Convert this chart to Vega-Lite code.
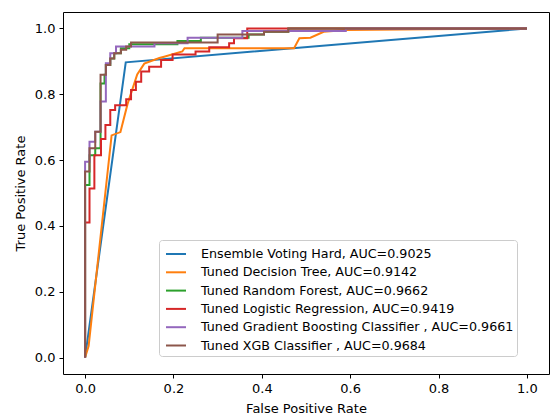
{
  "$schema": "https://vega.github.io/schema/vega-lite/v6.json",
  "width": 486,
  "height": 362,
  "autosize": {"type": "none"},
  "padding": {"left": 63, "top": 12, "right": 3, "bottom": 43},
  "config": {
    "font": "DejaVu Sans",
    "view": {"stroke": "#000", "strokeWidth": 1},
    "axis": {"domain": false, "grid": false, "tickColor": "#000", "tickSize": 4, "labelFontSize": 13, "labelColor": "#000", "titleFontSize": 13, "titleFontWeight": "normal", "titleColor": "#000", "labelPadding": 4}
  },
  "datasets": {
    "roc": [
      {"m": "Ensemble Voting Hard, AUC=0.9025", "x": 0, "y": 0},
      {"m": "Ensemble Voting Hard, AUC=0.9025", "x": 0.092, "y": 0.897},
      {"m": "Ensemble Voting Hard, AUC=0.9025", "x": 1, "y": 1},

      {"m": "Tuned Decision Tree, AUC=0.9142", "x": 0, "y": 0},
      {"m": "Tuned Decision Tree, AUC=0.9142", "x": 0.008, "y": 0.035},
      {"m": "Tuned Decision Tree, AUC=0.9142", "x": 0.06, "y": 0.675},
      {"m": "Tuned Decision Tree, AUC=0.9142", "x": 0.08, "y": 0.685},
      {"m": "Tuned Decision Tree, AUC=0.9142", "x": 0.096, "y": 0.77},
      {"m": "Tuned Decision Tree, AUC=0.9142", "x": 0.118, "y": 0.86},
      {"m": "Tuned Decision Tree, AUC=0.9142", "x": 0.134, "y": 0.893},
      {"m": "Tuned Decision Tree, AUC=0.9142", "x": 0.168, "y": 0.91},
      {"m": "Tuned Decision Tree, AUC=0.9142", "x": 0.179, "y": 0.914},
      {"m": "Tuned Decision Tree, AUC=0.9142", "x": 0.22, "y": 0.93},
      {"m": "Tuned Decision Tree, AUC=0.9142", "x": 0.225, "y": 0.94},
      {"m": "Tuned Decision Tree, AUC=0.9142", "x": 0.473, "y": 0.94},
      {"m": "Tuned Decision Tree, AUC=0.9142", "x": 0.485, "y": 0.97},
      {"m": "Tuned Decision Tree, AUC=0.9142", "x": 0.51, "y": 0.972},
      {"m": "Tuned Decision Tree, AUC=0.9142", "x": 0.54, "y": 0.99},
      {"m": "Tuned Decision Tree, AUC=0.9142", "x": 0.59, "y": 0.995},
      {"m": "Tuned Decision Tree, AUC=0.9142", "x": 1, "y": 1},

      {"m": "Tuned Random Forest, AUC=0.9662", "x": 0, "y": 0},
      {"m": "Tuned Random Forest, AUC=0.9662", "x": 0, "y": 0.524},
      {"m": "Tuned Random Forest, AUC=0.9662", "x": 0.01, "y": 0.524},
      {"m": "Tuned Random Forest, AUC=0.9662", "x": 0.01, "y": 0.615},
      {"m": "Tuned Random Forest, AUC=0.9662", "x": 0.023, "y": 0.615},
      {"m": "Tuned Random Forest, AUC=0.9662", "x": 0.023, "y": 0.636},
      {"m": "Tuned Random Forest, AUC=0.9662", "x": 0.035, "y": 0.636},
      {"m": "Tuned Random Forest, AUC=0.9662", "x": 0.035, "y": 0.833},
      {"m": "Tuned Random Forest, AUC=0.9662", "x": 0.044, "y": 0.833},
      {"m": "Tuned Random Forest, AUC=0.9662", "x": 0.044, "y": 0.859},
      {"m": "Tuned Random Forest, AUC=0.9662", "x": 0.047, "y": 0.859},
      {"m": "Tuned Random Forest, AUC=0.9662", "x": 0.047, "y": 0.889},
      {"m": "Tuned Random Forest, AUC=0.9662", "x": 0.057, "y": 0.889},
      {"m": "Tuned Random Forest, AUC=0.9662", "x": 0.057, "y": 0.909},
      {"m": "Tuned Random Forest, AUC=0.9662", "x": 0.066, "y": 0.909},
      {"m": "Tuned Random Forest, AUC=0.9662", "x": 0.066, "y": 0.925},
      {"m": "Tuned Random Forest, AUC=0.9662", "x": 0.081, "y": 0.925},
      {"m": "Tuned Random Forest, AUC=0.9662", "x": 0.081, "y": 0.94},
      {"m": "Tuned Random Forest, AUC=0.9662", "x": 0.1, "y": 0.94},
      {"m": "Tuned Random Forest, AUC=0.9662", "x": 0.1, "y": 0.952},
      {"m": "Tuned Random Forest, AUC=0.9662", "x": 0.209, "y": 0.952},
      {"m": "Tuned Random Forest, AUC=0.9662", "x": 0.209, "y": 0.962},
      {"m": "Tuned Random Forest, AUC=0.9662", "x": 0.262, "y": 0.962},
      {"m": "Tuned Random Forest, AUC=0.9662", "x": 0.262, "y": 0.972},
      {"m": "Tuned Random Forest, AUC=0.9662", "x": 0.37, "y": 0.972},
      {"m": "Tuned Random Forest, AUC=0.9662", "x": 0.37, "y": 0.982},
      {"m": "Tuned Random Forest, AUC=0.9662", "x": 0.405, "y": 0.982},
      {"m": "Tuned Random Forest, AUC=0.9662", "x": 0.405, "y": 0.99},
      {"m": "Tuned Random Forest, AUC=0.9662", "x": 0.46, "y": 0.99},
      {"m": "Tuned Random Forest, AUC=0.9662", "x": 0.46, "y": 1},
      {"m": "Tuned Random Forest, AUC=0.9662", "x": 1, "y": 1},

      {"m": "Tuned Logistic Regression, AUC=0.9419", "x": 0, "y": 0},
      {"m": "Tuned Logistic Regression, AUC=0.9419", "x": 0, "y": 0.41},
      {"m": "Tuned Logistic Regression, AUC=0.9419", "x": 0.01, "y": 0.41},
      {"m": "Tuned Logistic Regression, AUC=0.9419", "x": 0.01, "y": 0.514},
      {"m": "Tuned Logistic Regression, AUC=0.9419", "x": 0.021, "y": 0.514},
      {"m": "Tuned Logistic Regression, AUC=0.9419", "x": 0.021, "y": 0.615},
      {"m": "Tuned Logistic Regression, AUC=0.9419", "x": 0.036, "y": 0.615},
      {"m": "Tuned Logistic Regression, AUC=0.9419", "x": 0.036, "y": 0.664},
      {"m": "Tuned Logistic Regression, AUC=0.9419", "x": 0.046, "y": 0.664},
      {"m": "Tuned Logistic Regression, AUC=0.9419", "x": 0.046, "y": 0.707},
      {"m": "Tuned Logistic Regression, AUC=0.9419", "x": 0.057, "y": 0.707},
      {"m": "Tuned Logistic Regression, AUC=0.9419", "x": 0.057, "y": 0.752},
      {"m": "Tuned Logistic Regression, AUC=0.9419", "x": 0.068, "y": 0.752},
      {"m": "Tuned Logistic Regression, AUC=0.9419", "x": 0.068, "y": 0.767},
      {"m": "Tuned Logistic Regression, AUC=0.9419", "x": 0.093, "y": 0.767},
      {"m": "Tuned Logistic Regression, AUC=0.9419", "x": 0.093, "y": 0.785},
      {"m": "Tuned Logistic Regression, AUC=0.9419", "x": 0.104, "y": 0.785},
      {"m": "Tuned Logistic Regression, AUC=0.9419", "x": 0.104, "y": 0.813},
      {"m": "Tuned Logistic Regression, AUC=0.9419", "x": 0.115, "y": 0.813},
      {"m": "Tuned Logistic Regression, AUC=0.9419", "x": 0.115, "y": 0.838},
      {"m": "Tuned Logistic Regression, AUC=0.9419", "x": 0.127, "y": 0.838},
      {"m": "Tuned Logistic Regression, AUC=0.9419", "x": 0.127, "y": 0.869},
      {"m": "Tuned Logistic Regression, AUC=0.9419", "x": 0.145, "y": 0.869},
      {"m": "Tuned Logistic Regression, AUC=0.9419", "x": 0.145, "y": 0.884},
      {"m": "Tuned Logistic Regression, AUC=0.9419", "x": 0.172, "y": 0.884},
      {"m": "Tuned Logistic Regression, AUC=0.9419", "x": 0.172, "y": 0.904},
      {"m": "Tuned Logistic Regression, AUC=0.9419", "x": 0.198, "y": 0.904},
      {"m": "Tuned Logistic Regression, AUC=0.9419", "x": 0.198, "y": 0.921},
      {"m": "Tuned Logistic Regression, AUC=0.9419", "x": 0.25, "y": 0.921},
      {"m": "Tuned Logistic Regression, AUC=0.9419", "x": 0.25, "y": 0.93},
      {"m": "Tuned Logistic Regression, AUC=0.9419", "x": 0.281, "y": 0.93},
      {"m": "Tuned Logistic Regression, AUC=0.9419", "x": 0.281, "y": 0.943},
      {"m": "Tuned Logistic Regression, AUC=0.9419", "x": 0.326, "y": 0.943},
      {"m": "Tuned Logistic Regression, AUC=0.9419", "x": 0.326, "y": 0.955},
      {"m": "Tuned Logistic Regression, AUC=0.9419", "x": 0.337, "y": 0.955},
      {"m": "Tuned Logistic Regression, AUC=0.9419", "x": 0.337, "y": 0.97},
      {"m": "Tuned Logistic Regression, AUC=0.9419", "x": 0.367, "y": 0.97},
      {"m": "Tuned Logistic Regression, AUC=0.9419", "x": 0.367, "y": 1},
      {"m": "Tuned Logistic Regression, AUC=0.9419", "x": 1, "y": 1},

      {"m": "Tuned Gradient Boosting Classifier , AUC=0.9661", "x": 0, "y": 0},
      {"m": "Tuned Gradient Boosting Classifier , AUC=0.9661", "x": 0, "y": 0.595},
      {"m": "Tuned Gradient Boosting Classifier , AUC=0.9661", "x": 0.01, "y": 0.595},
      {"m": "Tuned Gradient Boosting Classifier , AUC=0.9661", "x": 0.01, "y": 0.656},
      {"m": "Tuned Gradient Boosting Classifier , AUC=0.9661", "x": 0.023, "y": 0.656},
      {"m": "Tuned Gradient Boosting Classifier , AUC=0.9661", "x": 0.023, "y": 0.686},
      {"m": "Tuned Gradient Boosting Classifier , AUC=0.9661", "x": 0.035, "y": 0.686},
      {"m": "Tuned Gradient Boosting Classifier , AUC=0.9661", "x": 0.035, "y": 0.778},
      {"m": "Tuned Gradient Boosting Classifier , AUC=0.9661", "x": 0.047, "y": 0.778},
      {"m": "Tuned Gradient Boosting Classifier , AUC=0.9661", "x": 0.047, "y": 0.894},
      {"m": "Tuned Gradient Boosting Classifier , AUC=0.9661", "x": 0.057, "y": 0.894},
      {"m": "Tuned Gradient Boosting Classifier , AUC=0.9661", "x": 0.057, "y": 0.925},
      {"m": "Tuned Gradient Boosting Classifier , AUC=0.9661", "x": 0.07, "y": 0.925},
      {"m": "Tuned Gradient Boosting Classifier , AUC=0.9661", "x": 0.07, "y": 0.945},
      {"m": "Tuned Gradient Boosting Classifier , AUC=0.9661", "x": 0.157, "y": 0.945},
      {"m": "Tuned Gradient Boosting Classifier , AUC=0.9661", "x": 0.157, "y": 0.955},
      {"m": "Tuned Gradient Boosting Classifier , AUC=0.9661", "x": 0.232, "y": 0.955},
      {"m": "Tuned Gradient Boosting Classifier , AUC=0.9661", "x": 0.232, "y": 0.972},
      {"m": "Tuned Gradient Boosting Classifier , AUC=0.9661", "x": 0.356, "y": 0.972},
      {"m": "Tuned Gradient Boosting Classifier , AUC=0.9661", "x": 0.356, "y": 0.992},
      {"m": "Tuned Gradient Boosting Classifier , AUC=0.9661", "x": 0.59, "y": 0.992},
      {"m": "Tuned Gradient Boosting Classifier , AUC=0.9661", "x": 0.59, "y": 1},
      {"m": "Tuned Gradient Boosting Classifier , AUC=0.9661", "x": 1, "y": 1},

      {"m": "Tuned XGB Classifier , AUC=0.9684", "x": 0, "y": 0},
      {"m": "Tuned XGB Classifier , AUC=0.9684", "x": 0, "y": 0.565},
      {"m": "Tuned XGB Classifier , AUC=0.9684", "x": 0.01, "y": 0.565},
      {"m": "Tuned XGB Classifier , AUC=0.9684", "x": 0.01, "y": 0.636},
      {"m": "Tuned XGB Classifier , AUC=0.9684", "x": 0.023, "y": 0.636},
      {"m": "Tuned XGB Classifier , AUC=0.9684", "x": 0.023, "y": 0.686},
      {"m": "Tuned XGB Classifier , AUC=0.9684", "x": 0.035, "y": 0.686},
      {"m": "Tuned XGB Classifier , AUC=0.9684", "x": 0.035, "y": 0.859},
      {"m": "Tuned XGB Classifier , AUC=0.9684", "x": 0.047, "y": 0.859},
      {"m": "Tuned XGB Classifier , AUC=0.9684", "x": 0.047, "y": 0.889},
      {"m": "Tuned XGB Classifier , AUC=0.9684", "x": 0.057, "y": 0.889},
      {"m": "Tuned XGB Classifier , AUC=0.9684", "x": 0.057, "y": 0.909},
      {"m": "Tuned XGB Classifier , AUC=0.9684", "x": 0.066, "y": 0.909},
      {"m": "Tuned XGB Classifier , AUC=0.9684", "x": 0.066, "y": 0.925},
      {"m": "Tuned XGB Classifier , AUC=0.9684", "x": 0.081, "y": 0.925},
      {"m": "Tuned XGB Classifier , AUC=0.9684", "x": 0.081, "y": 0.935},
      {"m": "Tuned XGB Classifier , AUC=0.9684", "x": 0.093, "y": 0.935},
      {"m": "Tuned XGB Classifier , AUC=0.9684", "x": 0.093, "y": 0.945},
      {"m": "Tuned XGB Classifier , AUC=0.9684", "x": 0.104, "y": 0.945},
      {"m": "Tuned XGB Classifier , AUC=0.9684", "x": 0.104, "y": 0.957},
      {"m": "Tuned XGB Classifier , AUC=0.9684", "x": 0.3, "y": 0.957},
      {"m": "Tuned XGB Classifier , AUC=0.9684", "x": 0.3, "y": 0.982},
      {"m": "Tuned XGB Classifier , AUC=0.9684", "x": 0.405, "y": 0.982},
      {"m": "Tuned XGB Classifier , AUC=0.9684", "x": 0.405, "y": 0.99},
      {"m": "Tuned XGB Classifier , AUC=0.9684", "x": 0.46, "y": 0.99},
      {"m": "Tuned XGB Classifier , AUC=0.9684", "x": 0.46, "y": 1},
      {"m": "Tuned XGB Classifier , AUC=0.9684", "x": 1, "y": 1}
    ]
  },
  "data": {"name": "roc"},
  "mark": {"type": "line", "strokeWidth": 2, "clip": true},
  "encoding": {
    "x": {
      "field": "x", "type": "quantitative",
      "scale": {"domain": [-0.05, 1.05], "nice": false, "zero": false},
      "axis": {"values": [0, 0.2, 0.4, 0.6, 0.8, 1], "format": ".1f", "title": "False Positive Rate", "titlePadding": 7}
    },
    "y": {
      "field": "y", "type": "quantitative",
      "scale": {"domain": [-0.05, 1.05], "nice": false, "zero": false},
      "axis": {"values": [0, 0.2, 0.4, 0.6, 0.8, 1], "format": ".1f", "title": "True Positive Rate", "titlePadding": 7}
    },
    "color": {
      "field": "m", "type": "nominal",
      "scale": {
        "domain": ["Ensemble Voting Hard, AUC=0.9025", "Tuned Decision Tree, AUC=0.9142", "Tuned Random Forest, AUC=0.9662", "Tuned Logistic Regression, AUC=0.9419", "Tuned Gradient Boosting Classifier , AUC=0.9661", "Tuned XGB Classifier , AUC=0.9684"],
        "range": ["#1f77b4", "#ff7f0e", "#2ca02c", "#d62728", "#9467bd", "#8c564b"]
      },
      "legend": {
        "title": null, "orient": "none", "legendX": 96, "legendY": 228,
        "symbolType": "stroke", "symbolSize": 400, "symbolStrokeWidth": 2, "symbolOffset": 3,
        "labelFontSize": 12.7, "labelColor": "#000", "labelOffset": 14, "labelLimit": 500,
        "padding": 3, "rowPadding": 0.3,
        "strokeColor": "#cccccc", "fillColor": "#ffffff", "cornerRadius": 3
      }
    },
    "order": {"value": null}
  }
}
